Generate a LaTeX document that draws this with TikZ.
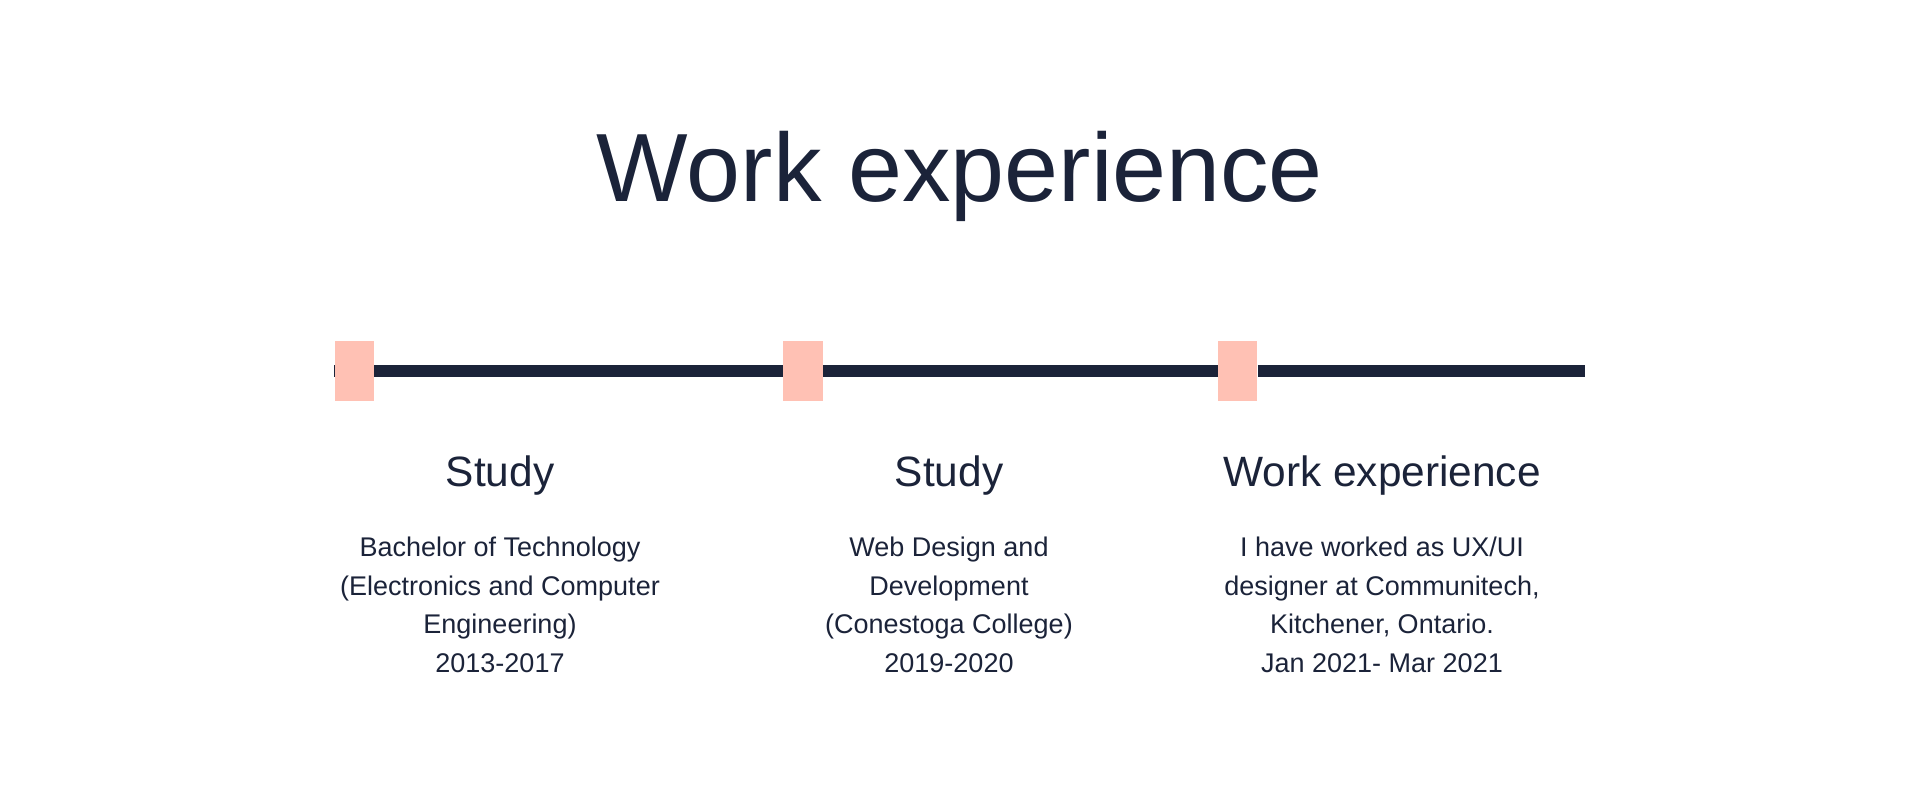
\documentclass[tikz,border=0pt]{standalone}
\usepackage{fontspec}
\setmainfont{Liberation Sans}
\usetikzlibrary{backgrounds}
\definecolor{navy}{HTML}{1B2339}
\definecolor{peach}{HTML}{FFC1B4}
\tikzset{
  marker/.style={fill=peach, draw=none, minimum width=19.75pt, minimum height=30pt, inner sep=0pt},
  tline/.style={draw=navy, line width=6pt},
  titletext/.style={text=navy, inner sep=0pt, anchor=base, font=\fontsize{48.5}{58}\selectfont},
  headtext/.style={text=navy, inner sep=0pt, anchor=base, font=\fontsize{21.2}{26}\selectfont},
  bodytext/.style={text=navy, inner sep=0pt, anchor=base, align=center, font=\fontsize{13.5}{19.25}\selectfont}
}
\begin{document}
\begin{tikzpicture}[x=0.5pt, y=-0.5pt]
\useasboundingbox (0,0) rectangle (1919,802);
\node[titletext] (title) at (960,202) {Work experience};
\node[marker] (m1) at (354.3,371) {};
\node[marker] (m2) at (803,371) {};
\node[marker] (m3) at (1237.7,371) {};
\coordinate (lend) at (1585,371);
\begin{scope}[on background layer]
\draw[tline] (m1.west) -- (m2) -- (m3) -- (lend);
\end{scope}
\node[headtext] (h1) at (500,487) {Study};
\node[headtext] (h2) at (949,487) {Study};
\node[headtext] (h3) at (1382,487) {Work experience};
\node[bodytext] (b1) at (500,672) {Bachelor of Technology\\(Electronics and Computer\\Engineering)\\2013-2017};
\node[bodytext] (b2) at (949,672) {Web Design and\\Development\\(Conestoga College)\\2019-2020};
\node[bodytext] (b3) at (1382,672) {I have worked as UX/UI\\designer at Communitech,\\Kitchener, Ontario.\\Jan 2021- Mar 2021};
\end{tikzpicture}
\end{document}
